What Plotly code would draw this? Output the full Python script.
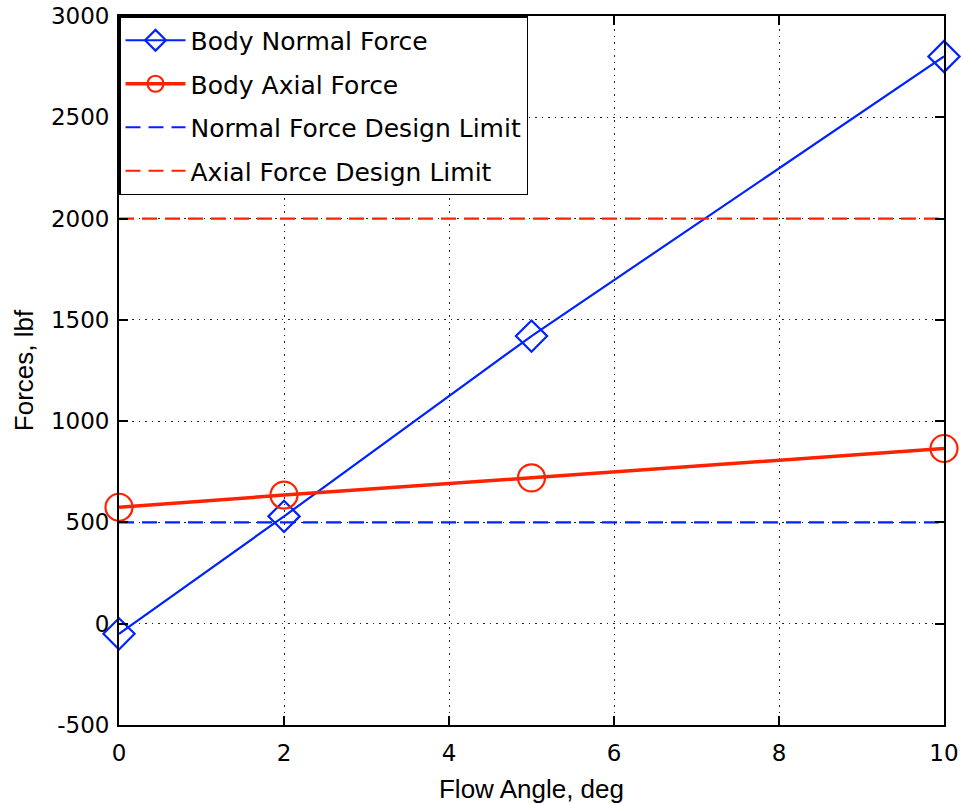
import plotly.graph_objects as go

flow_angle = [0, 2, 5, 10]
normal_force = [-50, 530, 1420, 2800]
axial_force = [575, 635, 720, 865]
limit_x = [0, 10]
normal_limit = [500, 500]
axial_limit = [2000, 2000]
x_ticks = [0, 2, 4, 6, 8, 10]
y_ticks = [-500, 0, 500, 1000, 1500, 2000, 2500, 3000]
y_ticktext = ["-500", "0", "500", "1000", "1500", "2000", "2500", "3000"]

fig = go.Figure()
fig.add_trace(go.Scatter(x=flow_angle, y=normal_force, mode="lines+markers",
                         name="Body Normal Force", legendgroup="a", cliponaxis=False,
                         line=dict(color="#0022ff", width=2.2),
                         marker=dict(symbol="diamond-open", size=24, color="#0022ff",
                                     line=dict(width=2.2, color="#0022ff"))))
fig.add_trace(go.Scatter(x=flow_angle, y=axial_force, mode="lines+markers",
                         name="Body Axial Force", legendgroup="b", cliponaxis=False,
                         line=dict(color="#ff2200", width=3.5),
                         marker=dict(symbol="circle-open", size=27, color="#ff2200",
                                     line=dict(width=2.2, color="#ff2200"))))
fig.add_trace(go.Scatter(x=limit_x, y=normal_limit, mode="lines",
                         name="Normal Force Design Limit", legendgroup="c",
                         line=dict(color="#0022ff", width=2.2, dash="15px,8px")))
fig.add_trace(go.Scatter(x=limit_x, y=axial_limit, mode="lines",
                         name="Axial Force Design Limit", legendgroup="d",
                         line=dict(color="#ff2200", width=2.2, dash="15px,8px")))

tick_font = dict(size=23, color="black", family="DejaVu Sans, sans-serif")
title_font = dict(size=26, color="black", family="Liberation Sans, Arial, sans-serif")
axis_common = dict(showgrid=True, gridcolor="#222222", griddash="1.5px,5px", gridwidth=1.2,
                   showline=True, linecolor="black", linewidth=1.8, mirror="ticks",
                   ticks="inside", ticklen=9, tickwidth=1.5, tickcolor="black", zeroline=False,
                   automargin=False, ticklabeloverflow="allow", tickfont=tick_font)

fig.update_layout(
    width=963, height=804,
    margin=dict(l=119, r=19, t=16, b=79),
    paper_bgcolor="white", plot_bgcolor="white",
    font=dict(family="DejaVu Sans, sans-serif", size=22, color="black"),
    showlegend=True,
    legend=dict(x=0, y=1, xanchor="left", yanchor="top",
                bordercolor="black", borderwidth=1.5, bgcolor="white",
                font=dict(size=25, family="DejaVu Sans, sans-serif", color="black"),
                itemwidth=60, tracegroupgap=8, traceorder="grouped"),
    xaxis=dict(range=[0, 10], tickvals=x_ticks, ticklabelstandoff=6,
               title=dict(text="Flow Angle, deg", font=title_font, standoff=22),
               **axis_common),
    yaxis=dict(range=[-500, 3000], tickvals=y_ticks, ticktext=y_ticktext,
               ticklabelstandoff=3,
               title=dict(text="Forces, lbf", font=title_font, standoff=10),
               **axis_common),
)

fig.write_html("out.html", config={"displayModeBar": False},
               post_script="document.body.style.margin='0';document.body.style.overflow='hidden';")
